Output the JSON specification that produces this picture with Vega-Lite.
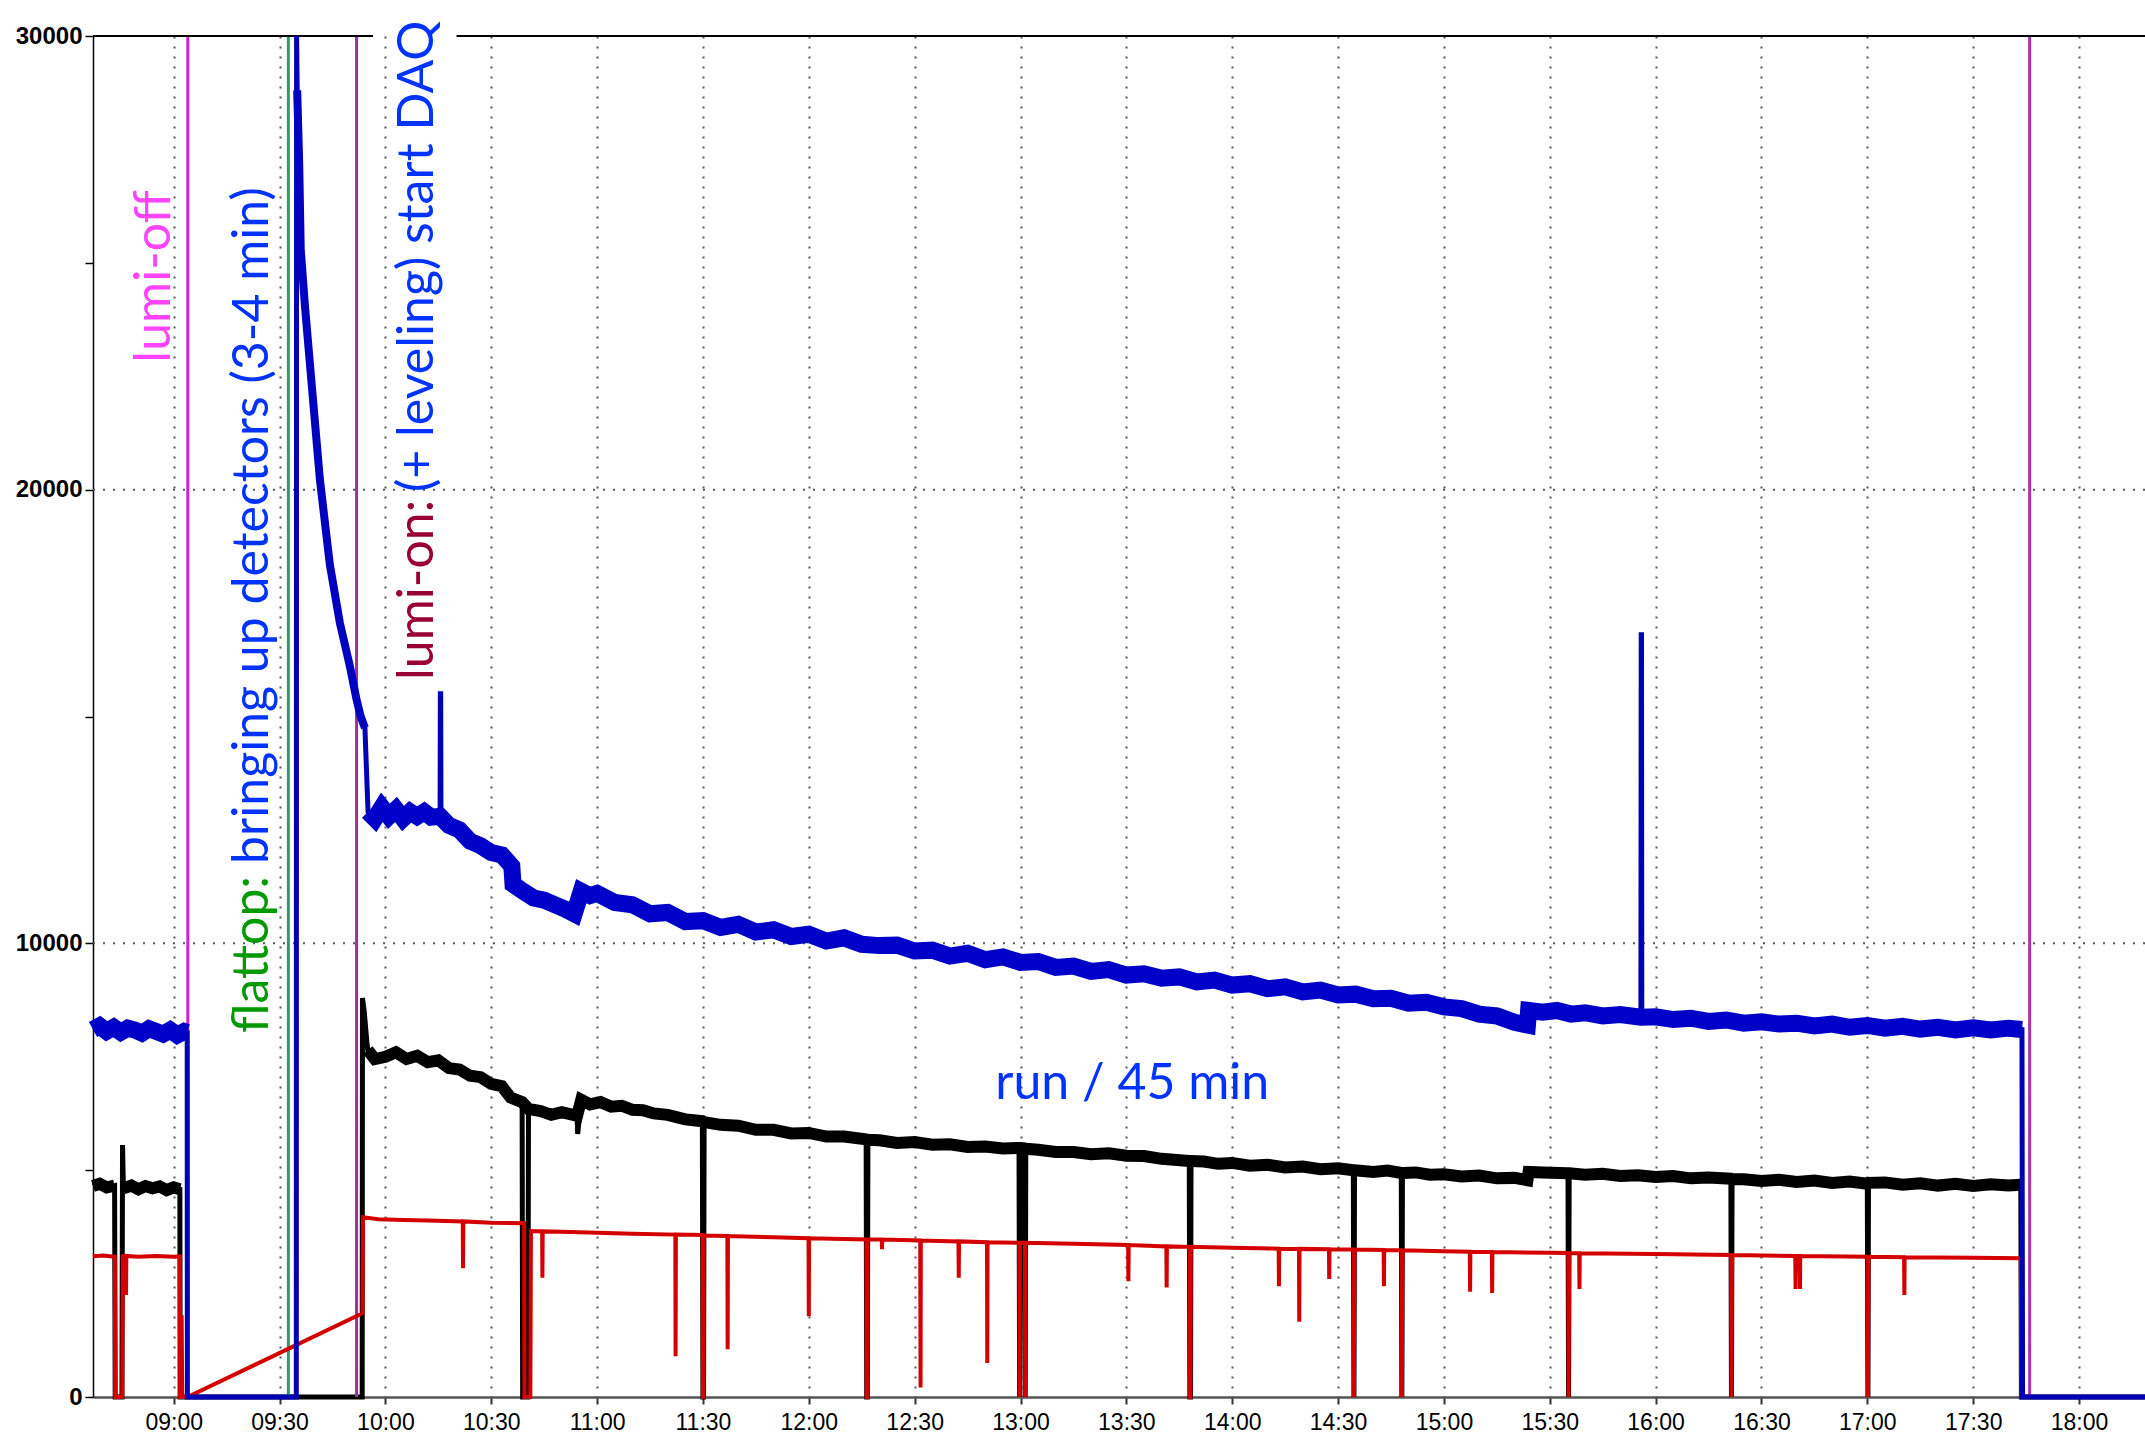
{
"$schema": "https://vega.github.io/schema/vega-lite/v6.json",
"width": 2052, "height": 1361,
"autosize": {"type": "none"},
"padding": {"left": 93, "top": 36, "right": 0, "bottom": 45},
"background": "white",
"config": {"view": {"stroke": null}},
"layer": [
{
"data": {"values": [
{"t":517.13,"v":4650,"b":"p"},{"t":519,"v":4700,"b":"p"},{"t":521,"v":4620,"b":"p"},{"t":523.25,"v":4660,"b":"p"},
{"t":523.42,"v":0,"b":""},{"t":525.33,"v":0,"b":""},{"t":525.5,"v":5555,"b":""},
{"t":525.75,"v":4600,"b":"q"},{"t":528,"v":4660,"b":"q"},{"t":530,"v":4580,"b":"q"},{"t":532,"v":4650,"b":"q"},{"t":534,"v":4600,"b":"q"},{"t":536,"v":4640,"b":"q"},{"t":538,"v":4560,"b":"q"},{"t":540,"v":4620,"b":"q"},{"t":541.75,"v":4580,"b":"q"},
{"t":541.83,"v":0,"b":""},{"t":593.42,"v":0,"b":""},{"t":593.5,"v":8795,"b":""},{"t":594,"v":8500,"b":""},{"t":594.83,"v":7750,"b":""},
{"t":595,"v":7650,"b":"m"},{"t":597,"v":7450,"b":"m"},{"t":600,"v":7500,"b":"m"},{"t":603,"v":7600,"b":"m"},{"t":606,"v":7450,"b":"m"},{"t":609,"v":7520,"b":"m"},{"t":612,"v":7380,"b":"m"},{"t":615,"v":7420,"b":"m"},{"t":618,"v":7250,"b":"m"},{"t":621,"v":7220,"b":"m"},{"t":624,"v":7080,"b":"m"},{"t":627,"v":7050,"b":"m"},{"t":630,"v":6900,"b":"m"},{"t":633,"v":6850,"b":"m"},{"t":635.5,"v":6600,"b":"m"},{"t":638.75,"v":6500,"b":"m"},
{"t":638.9,"v":0,"b":""},{"t":640.4,"v":0,"b":""},
{"t":640.55,"v":6350,"b":"m"},{"t":644,"v":6300,"b":"m"},{"t":647,"v":6220,"b":"m"},{"t":650,"v":6280,"b":"m"},{"t":654.33,"v":6200,"b":"m"},
{"t":654.5,"v":5800,"b":""},
{"t":655.5,"v":6550,"b":"m"},{"t":658,"v":6450,"b":"m"},{"t":661,"v":6500,"b":"m"},{"t":664,"v":6400,"b":"m"},{"t":667,"v":6420,"b":"m"},{"t":670,"v":6330,"b":"m"},{"t":673,"v":6320,"b":"m"},{"t":676,"v":6250,"b":"m"},{"t":680,"v":6220,"b":"m"},{"t":685,"v":6120,"b":"m"},{"t":689.83,"v":6080,"b":"m"},
{"t":690,"v":0,"b":""},{"t":690.17,"v":0,"b":""},
{"t":690.33,"v":6060,"b":"m"},{"t":695,"v":6000,"b":"m"},{"t":700,"v":5980,"b":"m"},{"t":705,"v":5890,"b":"m"},{"t":710,"v":5890,"b":"m"},{"t":715,"v":5810,"b":"m"},{"t":720,"v":5820,"b":"m"},{"t":725,"v":5740,"b":"m"},{"t":730,"v":5740,"b":"m"},{"t":736.25,"v":5680,"b":"m"},
{"t":736.42,"v":0,"b":""},{"t":736.58,"v":0,"b":""},
{"t":736.75,"v":5670,"b":"m"},{"t":740,"v":5660,"b":"m"},{"t":745,"v":5600,"b":"m"},{"t":750,"v":5620,"b":"m"},{"t":755,"v":5560,"b":"m"},{"t":760,"v":5570,"b":"m"},{"t":765,"v":5510,"b":"m"},{"t":770,"v":5520,"b":"m"},{"t":775,"v":5480,"b":"m"},{"t":779.58,"v":5490,"b":"m"},
{"t":779.75,"v":0,"b":""},
{"t":779.92,"v":5490,"b":"m"},{"t":781.17,"v":5480,"b":"m"},
{"t":781.33,"v":0,"b":""},
{"t":781.5,"v":5470,"b":"m"},{"t":785,"v":5450,"b":"m"},{"t":790,"v":5400,"b":"m"},{"t":795,"v":5400,"b":"m"},{"t":800,"v":5350,"b":"m"},{"t":805,"v":5370,"b":"m"},{"t":810,"v":5320,"b":"m"},{"t":815,"v":5310,"b":"m"},{"t":820,"v":5250,"b":"m"},{"t":827.83,"v":5200,"b":"m"},
{"t":828,"v":0,"b":""},{"t":828.17,"v":0,"b":""},
{"t":828.33,"v":5200,"b":"m"},{"t":832,"v":5190,"b":"m"},{"t":836,"v":5140,"b":"m"},{"t":840,"v":5160,"b":"m"},{"t":845,"v":5100,"b":"m"},{"t":850,"v":5120,"b":"m"},{"t":855,"v":5060,"b":"m"},{"t":860,"v":5080,"b":"m"},{"t":865,"v":5020,"b":"m"},{"t":870,"v":5040,"b":"m"},{"t":874.33,"v":5000,"b":"m"},
{"t":874.5,"v":0,"b":""},
{"t":874.67,"v":5000,"b":"m"},{"t":880,"v":4960,"b":"m"},{"t":884,"v":4990,"b":"m"},{"t":887.92,"v":4940,"b":"m"},
{"t":888.08,"v":0,"b":""},
{"t":888.25,"v":4940,"b":"m"},{"t":892,"v":4950,"b":"m"},{"t":896,"v":4900,"b":"m"},{"t":900,"v":4910,"b":"m"},{"t":905,"v":4860,"b":"m"},{"t":910,"v":4880,"b":"m"},{"t":915,"v":4820,"b":"m"},{"t":920,"v":4830,"b":"m"},{"t":923.67,"v":4780,"b":"m"},{"t":924,"v":4960,"b":"m"},{"t":928,"v":4950,"b":"m"},{"t":935.17,"v":4930,"b":"m"},
{"t":935.33,"v":0,"b":""},
{"t":935.5,"v":4930,"b":"m"},{"t":940,"v":4900,"b":"m"},{"t":945,"v":4920,"b":"m"},{"t":950,"v":4870,"b":"m"},{"t":955,"v":4890,"b":"m"},{"t":960,"v":4850,"b":"m"},{"t":965,"v":4870,"b":"m"},{"t":970,"v":4820,"b":"m"},{"t":975,"v":4840,"b":"m"},{"t":981.33,"v":4810,"b":"m"},
{"t":981.5,"v":0,"b":""},
{"t":981.67,"v":4800,"b":"m"},{"t":985,"v":4800,"b":"m"},{"t":990,"v":4760,"b":"m"},{"t":995,"v":4790,"b":"m"},{"t":1000,"v":4740,"b":"m"},{"t":1005,"v":4770,"b":"m"},{"t":1010,"v":4720,"b":"m"},{"t":1015,"v":4750,"b":"m"},{"t":1020,"v":4700,"b":"m"},
{"t":1020.17,"v":0,"b":""},
{"t":1020.33,"v":4720,"b":"m"},{"t":1025,"v":4730,"b":"m"},{"t":1030,"v":4680,"b":"m"},{"t":1035,"v":4710,"b":"m"},{"t":1040,"v":4660,"b":"m"},{"t":1045,"v":4700,"b":"m"},{"t":1050,"v":4650,"b":"m"},{"t":1055,"v":4690,"b":"m"},{"t":1060,"v":4660,"b":"m"},{"t":1063.5,"v":4680,"b":"m"},
{"t":1063.67,"v":0,"b":""},{"t":1098.67,"v":0,"b":""}
]},
"encoding": {
"x": {"field": "t", "type": "quantitative",
 "scale": {"domain": [517.13, 1098.7], "nice": false, "zero": false},
 "axis": {"title": null, "values": [540,570,600,630,660,690,720,750,780,810,840,870,900,930,960,990,1020,1050,1080], "labelExpr": "(datum.value < 600 ? '0' : '') + floor(datum.value / 60) + ':' + (datum.value % 60 == 0 ? '00' : '30')", "labelFont": "Liberation Sans", "labelFontSize": 23, "labelColor": "#000", "labelPadding": 7, "tickSize": 7, "tickColor": "#333", "tickWidth": 2, "domainColor": "#555", "domainWidth": 2.5, "grid": true, "gridDash": [2, 8], "gridColor": "#555", "gridWidth": 2, "labelOverlap": false}},
"y": {"field": "v", "type": "quantitative",
 "scale": {"domain": [0, 30000], "nice": false},
 "axis": {"title": null, "values": [0,5000,10000,15000,20000,25000,30000], "labelExpr": "datum.value % 10000 == 0 ? '' + datum.value : ''", "labelFont": "Liberation Sans", "labelFontWeight": "bold", "labelFontSize": 24, "labelColor": "#000", "labelPadding": 3, "tickSize": 8, "tickColor": "#000", "tickWidth": 1.5, "domainColor": "#000", "domainWidth": 1.5, "grid": false, "labelOverlap": false}}
},
"layer": [
 {"mark": {"type": "line", "color": "#000000", "strokeWidth": 5}, "encoding": {}},
 {"transform": [{"filter": "datum.b != ''"}], "mark": {"type": "line", "color": "#000000", "strokeWidth": 12}, "encoding": {"detail": {"field": "b", "type": "nominal"}}}
]
},
{
"data": {"values": [{"v": 10000}, {"v": 20000}]},
"mark": {"type": "rule", "color": "#555555", "strokeWidth": 2, "strokeDash": [2, 8]},
"encoding": {"y": {"field": "v", "type": "quantitative"}}
},
{
"data": {"values": [{"t":544,"ev":"a"},{"t":572.5,"ev":"b"},{"t":591.83,"ev":"c"},{"t":1066,"ev":"d"}]},
"mark": {"type": "rule", "strokeWidth": 3},
"encoding": {
 "x": {"field": "t", "type": "quantitative"},
 "color": {"field": "ev", "type": "nominal", "scale": {"domain": ["a","b","c","d"], "range": ["#cc22cc","#339966","#993399","#aa33aa"]}, "legend": null}
}
},
{
"data": {"values": [{"t":517.13,"t2":596.5,"v":30000},{"t":620.17,"t2":1098.7,"v":30000}]},
"mark": {"type": "rule", "color": "#000000", "strokeWidth": 2},
"encoding": {
 "x": {"field": "t", "type": "quantitative"},
 "x2": {"field": "t2"},
 "y": {"field": "v", "type": "quantitative"}
}
},
{
"data": {"values": [
{"t":517.13,"v":3100},{"t":520,"v":3120},{"t":523.33,"v":3090},{"t":523.42,"v":0},{"t":525.42,"v":0},{"t":525.58,"v":3100},{"t":526,"v":3100},{"t":526.08,"v":2290},{"t":526.5,"v":2290},{"t":526.58,"v":3110},{"t":530,"v":3090},{"t":535,"v":3110},{"t":540,"v":3090},{"t":541.75,"v":3100},{"t":541.83,"v":0},{"t":542.17,"v":0},{"t":542.25,"v":1800},{"t":542.42,"v":0},{"t":543.92,"v":0},
{"t":593.5,"v":1845},{"t":593.67,"v":3960},{"t":598,"v":3920},{"t":605,"v":3900},{"t":612,"v":3890},{"t":621.92,"v":3870},{"t":622,"v":2840},{"t":622.08,"v":3870},{"t":630,"v":3840},{"t":639.33,"v":3830},{"t":639.42,"v":0},{"t":641.08,"v":0},{"t":641.17,"v":1900},{"t":641.25,"v":3660},{"t":644.42,"v":3650},{"t":644.5,"v":2630},{"t":644.58,"v":3650},{"t":650,"v":3640},{"t":660,"v":3620},{"t":670,"v":3600},{"t":682.17,"v":3580},{"t":682.25,"v":900},{"t":682.33,"v":3580},{"t":689.92,"v":3570},{"t":690,"v":0},{"t":690.17,"v":0},{"t":690.25,"v":3560},{"t":696.92,"v":3550},{"t":697,"v":1050},{"t":697.08,"v":3550},{"t":710,"v":3520},{"t":719.92,"v":3500},{"t":720,"v":1780},{"t":720.08,"v":3500},{"t":730,"v":3480},{"t":736.33,"v":3470},{"t":736.42,"v":0},{"t":736.58,"v":0},{"t":736.67,"v":3470},{"t":740.67,"v":3470},{"t":740.75,"v":3260},{"t":740.83,"v":3470},{"t":751.58,"v":3450},{"t":751.67,"v":210},{"t":751.75,"v":3450},{"t":762.42,"v":3430},{"t":762.5,"v":2630},{"t":762.58,"v":3430},{"t":770.5,"v":3410},{"t":770.58,"v":750},{"t":770.67,"v":3410},{"t":779.67,"v":3400},{"t":779.75,"v":0},{"t":779.83,"v":3400},{"t":781.25,"v":3400},{"t":781.33,"v":0},{"t":781.42,"v":3400},{"t":795,"v":3380},{"t":810.5,"v":3350},{"t":810.58,"v":2550},{"t":810.67,"v":3350},{"t":821.33,"v":3320},{"t":821.42,"v":2415},{"t":821.5,"v":3320},{"t":827.92,"v":3310},{"t":828,"v":0},{"t":828.17,"v":0},{"t":828.25,"v":3310},{"t":840,"v":3290},{"t":853.17,"v":3270},{"t":853.25,"v":2440},{"t":853.33,"v":3270},{"t":858.92,"v":3265},{"t":859,"v":1660},{"t":859.08,"v":3265},{"t":867.42,"v":3255},{"t":867.5,"v":2600},{"t":867.58,"v":3255},{"t":874.42,"v":3250},{"t":874.5,"v":0},{"t":874.67,"v":3250},{"t":882.92,"v":3240},{"t":883,"v":2440},{"t":883.08,"v":3240},{"t":888,"v":3235},{"t":888.08,"v":0},{"t":888.25,"v":3235},{"t":900,"v":3210},{"t":907.33,"v":3200},{"t":907.42,"v":2320},{"t":907.5,"v":3200},{"t":913.58,"v":3195},{"t":913.67,"v":2290},{"t":913.75,"v":3195},{"t":930,"v":3180},{"t":935.25,"v":3175},{"t":935.33,"v":0},{"t":935.5,"v":3175},{"t":938.33,"v":3170},{"t":938.42,"v":2380},{"t":938.5,"v":3170},{"t":960,"v":3150},{"t":981.42,"v":3130},{"t":981.5,"v":0},{"t":981.67,"v":3130},{"t":999.58,"v":3110},{"t":999.67,"v":2380},{"t":999.75,"v":3110},{"t":1000.83,"v":3110},{"t":1000.92,"v":2380},{"t":1001,"v":3110},{"t":1020.08,"v":3090},{"t":1020.17,"v":0},{"t":1020.33,"v":3090},{"t":1030.42,"v":3080},{"t":1030.5,"v":2250},{"t":1030.58,"v":3080},{"t":1050,"v":3070},{"t":1063.5,"v":3060},{"t":1063.67,"v":0},{"t":1098.67,"v":0}
]},
"mark": {"type": "line", "color": "#d40000", "strokeWidth": 4},
"encoding": {"x": {"field": "t", "type": "quantitative"}, "y": {"field": "v", "type": "quantitative"}}
},
{
"data": {"values": [
{"t":517.13,"v":8100,"b":"p"},{"t":519,"v":8180,"b":"p"},{"t":521,"v":8060,"b":"p"},{"t":523,"v":8150,"b":"p"},{"t":525,"v":8040,"b":"p"},{"t":527,"v":8130,"b":"p"},{"t":529,"v":8090,"b":"p"},{"t":531,"v":8020,"b":"p"},{"t":533,"v":8120,"b":"p"},{"t":535,"v":8060,"b":"p"},{"t":537,"v":8000,"b":"p"},{"t":539,"v":8090,"b":"p"},{"t":541,"v":7980,"b":"p"},{"t":543,"v":8060,"b":"p"},{"t":543.83,"v":8040,"b":"p"},
{"t":543.87,"v":0,"b":""},{"t":574.75,"v":0,"b":""},{"t":574.83,"v":30000,"b":""},
{"t":575,"v":28800,"b":"d"},{"t":575.58,"v":27160,"b":"d"},{"t":576,"v":25300,"b":"d"},{"t":577.22,"v":24030,"b":"d"},{"t":579.08,"v":22350,"b":"d"},{"t":581.43,"v":20230,"b":"d"},{"t":584.27,"v":18340,"b":"d"},{"t":587.1,"v":17060,"b":"d"},{"t":589.93,"v":16110,"b":"d"},{"t":591.83,"v":15370,"b":"d"},{"t":593,"v":15000,"b":"d"},{"t":594.2,"v":14750,"b":"d"},
{"t":595.08,"v":12900,"b":"m"},{"t":597,"v":12750,"b":"m"},{"t":599,"v":13000,"b":"m"},{"t":601,"v":12800,"b":"m"},{"t":603,"v":12950,"b":"m"},{"t":605,"v":12750,"b":"m"},{"t":607,"v":12900,"b":"m"},{"t":609,"v":12800,"b":"m"},{"t":611,"v":12900,"b":"m"},{"t":613,"v":12780,"b":"m"},{"t":615.5,"v":12800,"b":"m"},
{"t":615.58,"v":15500,"b":""},{"t":615.67,"v":15500,"b":""},
{"t":615.75,"v":12780,"b":"m"},{"t":618,"v":12600,"b":"m"},{"t":621,"v":12500,"b":"m"},{"t":624,"v":12250,"b":"m"},{"t":627,"v":12150,"b":"m"},{"t":630,"v":12000,"b":"m"},{"t":633,"v":11950,"b":"m"},{"t":635.83,"v":11700,"b":"m"},{"t":636.17,"v":11300,"b":"m"},{"t":639,"v":11150,"b":"m"},{"t":642,"v":11000,"b":"m"},{"t":645,"v":10950,"b":"m"},{"t":648,"v":10850,"b":"m"},{"t":651,"v":10750,"b":"m"},{"t":653.5,"v":10650,"b":"m"},{"t":655.5,"v":11150,"b":"m"},{"t":658,"v":11050,"b":"m"},{"t":660,"v":11100,"b":"m"},{"t":665,"v":10900,"b":"m"},{"t":670,"v":10850,"b":"m"},{"t":675,"v":10650,"b":"m"},{"t":680,"v":10680,"b":"m"},{"t":685,"v":10480,"b":"m"},{"t":690,"v":10500,"b":"m"},{"t":695,"v":10350,"b":"m"},{"t":700,"v":10420,"b":"m"},{"t":705,"v":10250,"b":"m"},{"t":710,"v":10300,"b":"m"},{"t":715,"v":10150,"b":"m"},{"t":720,"v":10200,"b":"m"},{"t":725,"v":10050,"b":"m"},{"t":730,"v":10120,"b":"m"},{"t":735,"v":9980,"b":"m"},{"t":740,"v":9950,"b":"m"},{"t":745,"v":9960,"b":"m"},{"t":750,"v":9830,"b":"m"},{"t":755,"v":9850,"b":"m"},{"t":760,"v":9720,"b":"m"},{"t":765,"v":9780,"b":"m"},{"t":770,"v":9640,"b":"m"},{"t":775,"v":9700,"b":"m"},{"t":780,"v":9580,"b":"m"},{"t":785,"v":9600,"b":"m"},{"t":790,"v":9470,"b":"m"},{"t":795,"v":9500,"b":"m"},{"t":800,"v":9380,"b":"m"},{"t":805,"v":9420,"b":"m"},{"t":810,"v":9300,"b":"m"},{"t":815,"v":9330,"b":"m"},{"t":820,"v":9230,"b":"m"},{"t":825,"v":9260,"b":"m"},{"t":830,"v":9150,"b":"m"},{"t":835,"v":9190,"b":"m"},{"t":840,"v":9080,"b":"m"},{"t":845,"v":9110,"b":"m"},{"t":850,"v":9000,"b":"m"},{"t":855,"v":9040,"b":"m"},{"t":860,"v":8930,"b":"m"},{"t":865,"v":8970,"b":"m"},{"t":870,"v":8860,"b":"m"},{"t":875,"v":8880,"b":"m"},{"t":880,"v":8780,"b":"m"},{"t":885,"v":8790,"b":"m"},{"t":890,"v":8680,"b":"m"},{"t":895,"v":8700,"b":"m"},{"t":900,"v":8600,"b":"m"},{"t":905,"v":8560,"b":"m"},{"t":910,"v":8440,"b":"m"},{"t":915,"v":8400,"b":"m"},{"t":920,"v":8260,"b":"m"},{"t":923.67,"v":8200,"b":"m"},{"t":924,"v":8520,"b":"m"},{"t":928,"v":8480,"b":"m"},{"t":932,"v":8520,"b":"m"},{"t":936,"v":8440,"b":"m"},{"t":940,"v":8470,"b":"m"},{"t":945,"v":8400,"b":"m"},{"t":950,"v":8430,"b":"m"},{"t":955.83,"v":8370,"b":"m"},
{"t":955.92,"v":16800,"b":""},{"t":956,"v":16800,"b":""},
{"t":956.08,"v":8370,"b":"m"},{"t":960,"v":8380,"b":"m"},{"t":965,"v":8320,"b":"m"},{"t":970,"v":8350,"b":"m"},{"t":975,"v":8280,"b":"m"},{"t":980,"v":8310,"b":"m"},{"t":985,"v":8240,"b":"m"},{"t":990,"v":8270,"b":"m"},{"t":995,"v":8220,"b":"m"},{"t":1000,"v":8240,"b":"m"},{"t":1005,"v":8180,"b":"m"},{"t":1010,"v":8220,"b":"m"},{"t":1015,"v":8150,"b":"m"},{"t":1020,"v":8190,"b":"m"},{"t":1025,"v":8130,"b":"m"},{"t":1030,"v":8170,"b":"m"},{"t":1035,"v":8110,"b":"m"},{"t":1040,"v":8150,"b":"m"},{"t":1045,"v":8090,"b":"m"},{"t":1050,"v":8140,"b":"m"},{"t":1055,"v":8090,"b":"m"},{"t":1060,"v":8130,"b":"m"},{"t":1063.83,"v":8100,"b":"m"},
{"t":1064,"v":0,"b":""},{"t":1098.7,"v":0,"b":""}
]},
"encoding": {"x": {"field": "t", "type": "quantitative"}, "y": {"field": "v", "type": "quantitative"}},
"layer": [
 {"mark": {"type": "line", "color": "#0000b4", "strokeWidth": 5}, "encoding": {}},
 {"transform": [{"filter": "datum.b == 'd'"}], "mark": {"type": "line", "color": "#0000c0", "strokeWidth": 8}, "encoding": {}},
 {"transform": [{"filter": "datum.b == 'p' || datum.b == 'm'"}], "mark": {"type": "line", "color": "#0000c8", "strokeWidth": 17}, "encoding": {"detail": {"field": "b", "type": "nominal"}}}
]
},
{
"data": {"values": [{"t":538.95,"v":22800,"label":"lumi-off"}]},
"mark": {"type": "text", "angle": 270, "align": "left", "baseline": "alphabetic", "font": "Lato", "fontSize": 50, "color": "#ff44ff"},
"encoding": {"x": {"field": "t", "type": "quantitative"}, "y": {"field": "v", "type": "quantitative"}, "text": {"field": "label"}}
},
{
"data": {"values": [{"t":566.75,"v":8024,"label":"flattop:"}]},
"mark": {"type": "text", "angle": 270, "align": "left", "baseline": "alphabetic", "font": "Lato", "fontSize": 50, "color": "#009900"},
"encoding": {"x": {"field": "t", "type": "quantitative"}, "y": {"field": "v", "type": "quantitative"}, "text": {"field": "label"}}
},
{
"data": {"values": [{"t":566.75,"v":11750,"label":"bringing up detectors (3-4 min)"}]},
"mark": {"type": "text", "angle": 270, "align": "left", "baseline": "alphabetic", "font": "Lato", "fontSize": 50, "color": "#0033ff"},
"encoding": {"x": {"field": "t", "type": "quantitative"}, "y": {"field": "v", "type": "quantitative"}, "text": {"field": "label"}}
},
{
"data": {"values": [{"t":613.45,"v":15805,"label":"lumi-on:"}]},
"mark": {"type": "text", "angle": 270, "align": "left", "baseline": "alphabetic", "font": "Lato", "fontSize": 50, "color": "#990033"},
"encoding": {"x": {"field": "t", "type": "quantitative"}, "y": {"field": "v", "type": "quantitative"}, "text": {"field": "label"}}
},
{
"data": {"values": [{"t":613.45,"v":19946,"label":"(+ leveling) start DAQ"}]},
"mark": {"type": "text", "angle": 270, "align": "left", "baseline": "alphabetic", "font": "Lato", "fontSize": 50, "color": "#0033ff"},
"encoding": {"x": {"field": "t", "type": "quantitative"}, "y": {"field": "v", "type": "quantitative"}, "text": {"field": "label"}}
},
{
"data": {"values": [{"t":811.67,"v":6570,"label":"run / 45 min"}]},
"mark": {"type": "text", "align": "center", "baseline": "alphabetic", "font": "Lato", "fontSize": 50, "color": "#0033ff"},
"encoding": {"x": {"field": "t", "type": "quantitative"}, "y": {"field": "v", "type": "quantitative"}, "text": {"field": "label"}}
}
]
}
